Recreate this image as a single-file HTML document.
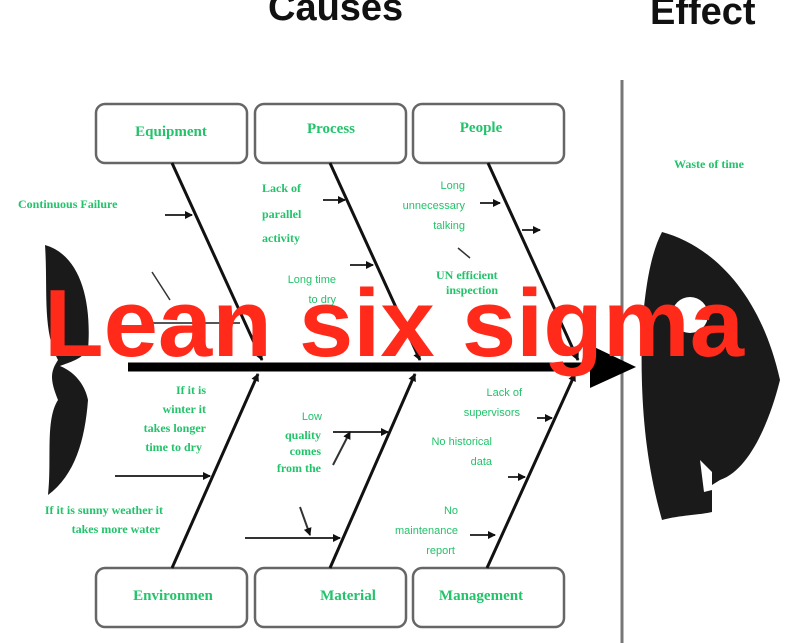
<!DOCTYPE html>
<html><head><meta charset="utf-8"><style>
html,body{margin:0;padding:0;background:#fff;width:788px;height:643px;overflow:hidden}
svg{display:block}
.g{font-family:"Liberation Serif",serif;font-weight:bold;font-size:12px;fill:#22c36a}
.b{font-family:"Liberation Serif",serif;font-weight:bold;font-size:15px;fill:#22c36a}
.s{font-family:"Liberation Sans",sans-serif;font-size:11px;fill:#22c36a}
</style></head><body>
<svg width="788" height="643" viewBox="0 0 788 643" xmlns="http://www.w3.org/2000/svg">
<defs><marker id="a" markerWidth="8" markerHeight="8" refX="7" refY="4" orient="auto" markerUnits="userSpaceOnUse"><path d="M0,0 L8,4 L0,8z" fill="#111"/></marker></defs>
<text x="268" y="20" font-family="Liberation Sans,sans-serif" font-size="38" font-weight="bold" fill="#111">Causes</text>
<text x="650" y="24" font-family="Liberation Sans,sans-serif" font-size="38" font-weight="bold" fill="#111">Effect</text>
<line x1="622" y1="80" x2="622" y2="643" stroke="#777" stroke-width="3"/>
<!-- tail -->
<path d="M45,245 C80,255 92,300 88,350 C80,360 70,362 60,366 C75,372 85,385 88,400 C85,440 75,475 48,495 C52,460 45,420 58,400 C50,380 50,372 58,360 C42,330 48,290 45,245z" fill="#1a1a1a"/>
<!-- head -->
<path d="M662,232 C710,245 760,290 780,380 C770,420 750,470 720,480 L712,485 L712,512 C700,515 680,515 662,520 C645,460 640,400 642,330 C645,290 650,255 662,232z" fill="#1a1a1a"/>
<path d="M700,460 L712,472 L712,490 L704,492z" fill="#fff"/>
<ellipse cx="690" cy="315" rx="18" ry="18" fill="#fff"/>
<!-- boxes -->
<g fill="#fff" stroke="#666" stroke-width="2.5">
<rect x="96" y="104" width="151" height="59" rx="9"/>
<rect x="255" y="104" width="151" height="59" rx="9"/>
<rect x="413" y="104" width="151" height="59" rx="9"/>
<rect x="96" y="568" width="151" height="59" rx="9"/>
<rect x="255" y="568" width="151" height="59" rx="9"/>
<rect x="413" y="568" width="151" height="59" rx="9"/>
</g>
<text class="b" x="171" y="136" text-anchor="middle">Equipment</text>
<text class="b" x="331" y="133" text-anchor="middle">Process</text>
<text class="b" x="481" y="132" text-anchor="middle">People</text>
<text class="b" x="173" y="600" text-anchor="middle">Environmen</text>
<text class="b" x="348" y="600" text-anchor="middle">Material</text>
<text class="b" x="481" y="600" text-anchor="middle">Management</text>
<!-- spine -->
<line x1="128" y1="367" x2="600" y2="367" stroke="#000" stroke-width="9"/>
<path d="M590,345 L636,367 L590,388z" fill="#000"/>
<!-- bones -->
<g stroke="#111" stroke-width="3" fill="none" marker-end="url(#a)">
<line x1="172" y1="163" x2="262" y2="360"/>
<line x1="330" y1="163" x2="420" y2="360"/>
<line x1="488" y1="163" x2="578" y2="360"/>
<line x1="172" y1="568" x2="258" y2="374"/>
<line x1="330" y1="568" x2="415" y2="374"/>
<line x1="487" y1="568" x2="575" y2="374"/>
</g>
<g stroke="#333" stroke-width="2" fill="none" marker-end="url(#a)">
<line x1="165" y1="215" x2="192" y2="215"/>
<line x1="323" y1="200" x2="345" y2="200"/>
<line x1="350" y1="265" x2="373" y2="265"/>
<line x1="480" y1="203" x2="500" y2="203"/>
<line x1="522" y1="230" x2="540" y2="230"/>
<line x1="115" y1="476" x2="210" y2="476"/>
<line x1="333" y1="432" x2="388" y2="432"/>
<line x1="245" y1="538" x2="340" y2="538"/>
<line x1="537" y1="418" x2="552" y2="418"/>
<line x1="508" y1="477" x2="525" y2="477"/>
<line x1="470" y1="535" x2="495" y2="535"/>
<line x1="300" y1="507" x2="310" y2="535"/>
<line x1="333" y1="465" x2="350" y2="432"/>
</g>
<line x1="152" y1="272" x2="170" y2="300" stroke="#333" stroke-width="1.5"/>
<line x1="458" y1="248" x2="470" y2="258" stroke="#333" stroke-width="1.5"/>
<line x1="145" y1="323" x2="240" y2="323" stroke="#555" stroke-width="2"/>
<!-- labels -->
<text class="g" x="18" y="208">Continuous Failure</text>
<text class="g" x="262" y="192">Lack of</text>
<text class="g" x="262" y="218">parallel</text>
<text class="g" x="262" y="242">activity</text>
<text class="s" x="336" y="283" text-anchor="end">Long time</text>
<text class="s" x="336" y="303" text-anchor="end">to dry</text>
<text class="s" x="465" y="189" text-anchor="end">Long</text>
<text class="s" x="465" y="209" text-anchor="end">unnecessary</text>
<text class="s" x="465" y="229" text-anchor="end">talking</text>
<text class="g" x="436" y="279">UN efficient</text>
<text class="g" x="446" y="294">inspection</text>
<text class="g" x="206" y="394" text-anchor="end">If it is</text>
<text class="g" x="206" y="413" text-anchor="end">winter it</text>
<text class="g" x="206" y="432" text-anchor="end">takes longer</text>
<text class="g" x="202" y="451" text-anchor="end">time to dry</text>
<text class="g" x="163" y="514" text-anchor="end">If it is sunny weather it</text>
<text class="g" x="160" y="533" text-anchor="end">takes more water</text>
<text class="s" x="322" y="420" text-anchor="end">Low</text>
<text class="g" x="321" y="439" text-anchor="end">quality</text>
<text class="g" x="321" y="455" text-anchor="end">comes</text>
<text class="g" x="321" y="472" text-anchor="end">from the</text>
<text class="s" x="522" y="396" text-anchor="end">Lack of</text>
<text class="s" x="520" y="416" text-anchor="end">supervisors</text>
<text class="s" x="492" y="445" text-anchor="end">No historical</text>
<text class="s" x="492" y="465" text-anchor="end">data</text>
<text class="s" x="458" y="514" text-anchor="end">No</text>
<text class="s" x="458" y="534" text-anchor="end">maintenance</text>
<text class="s" x="455" y="554" text-anchor="end">report</text>
<text class="g" x="674" y="168">Waste of time</text>
<text x="44" y="356" font-family="Liberation Sans,sans-serif" font-size="96" font-weight="bold" fill="#ff2a1a" textLength="700" lengthAdjust="spacingAndGlyphs">Lean six sigma</text>
</svg>
</body></html>
